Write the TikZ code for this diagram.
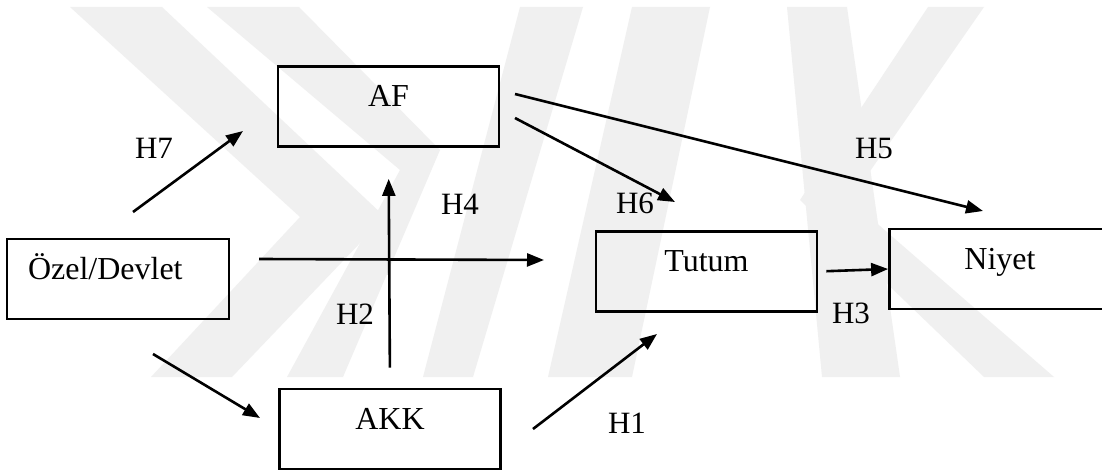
\documentclass[tikz,border=0pt]{standalone}
\usepackage{fontspec}
\setmainfont{Liberation Serif}
\usetikzlibrary{arrows.meta, positioning}
\tikzset{
  kutu/.style={draw, line width=2.8pt, minimum width=221pt, inner ysep=0pt,
    text height=40pt, text depth=40pt, font=\fontsize{32}{38}\selectfont},
  ok/.style={line width=2.6pt, -{Triangle[length=17pt,width=13pt]}},
  etiket/.style={anchor=base, inner sep=0pt, font=\fontsize{31}{37}\selectfont},
  filigran/.style={fill=black!6, draw=none}
}

\begin{document}
\begin{tikzpicture}[x=1pt, y=-1pt]
\useasboundingbox[fill=white] (0,0) rectangle (1102,473);

% watermark
\fill[filigran] (70,7) -- (162,7) -- (385,217) -- (232,377) -- (151,377) -- (300,217) -- cycle;
\fill[filigran] (207,7) -- (299,7) -- (440,150) -- (343,377) -- (287,377) -- (400,170) -- cycle;
\fill[filigran] (520,7) -- (583,7) -- (473,377) -- (423,377) -- cycle;
\fill[filigran] (632,7) -- (710,7) -- (632,377) -- (548,377) -- cycle;
\fill[filigran] (787,7) -- (847,7) -- (900,377) -- (822,377) -- cycle;
\fill[filigran] (928,7) -- (984,7) -- (850,200) -- (1054,377) -- (984,377) -- (800,200) -- cycle;

% boxes
\node[kutu] (af) at (388.5,106.5) {AF};
\node[kutu, text width=180pt, inner xsep=21pt, align=left] (ozel) at (118,279) {Özel/Devlet};
\node[kutu] (tutum) at (706.5,271.5) {Tutum};
\node[kutu] (niyet) at (1000,269) {Niyet};
\node[kutu] (akk) at (390,429) {AKK};

% free arrow ends
\coordinate (h7bas) at (133,212);
\coordinate (h7uc) at (243,131);
\coordinate (ydbas) at (259,259);
\coordinate (yduc) at (544,260);
\coordinate (akbas) at (153,354);
\coordinate (akuc) at (260,418);
\coordinate (h1bas) at (533,429);
\coordinate (h1uc) at (657,334);
\coordinate (h6bas) at (515,118);
\coordinate (h6uc) at (675,202);
\coordinate (h5bas) at (515,94);
\coordinate (h5uc) at (983,211);

\draw[ok] (h7bas) -- (h7uc);
\draw[ok] (ydbas) -- (yduc);
\draw[ok] (akbas) -- (akuc);
\draw[ok] (h1bas) -- (h1uc);
\draw[ok] (h6bas) -- (h6uc);
\draw[ok] (h5bas) -- (h5uc);
\draw[ok, shorten <=20pt, shorten >=31pt] (akk.north) -- (af.south);
\draw[ok, shorten <=8pt] (tutum.east) -- (niyet.west);

% labels
\node[etiket] (h7) at (154,159) {H7};
\node[etiket] (h4) at (460,214) {H4};
\node[etiket] (h6) at (635,213) {H6};
\node[etiket] (h5) at (874,159) {H5};
\node[etiket] (h2) at (355,324) {H2};
\node[etiket] (h3) at (851,323) {H3};
\node[etiket] (h1) at (627,433) {H1};
\end{tikzpicture}
\end{document}
